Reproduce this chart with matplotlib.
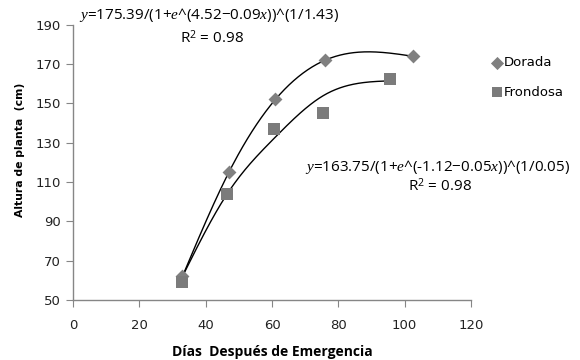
import numpy as np
import matplotlib.pyplot as plt

# observed points
dorada_x = [33, 47, 61, 76, 102.5]
dorada_y = [62, 115, 152, 172, 174]
frondosa_x = [33, 46.5, 60.5, 75.5, 95.5]
frondosa_y = [59, 104, 137, 145, 162.5]

# values of the fitted curves at the same days
dorada_fit = [62, 115, 152, 172, 174]
frondosa_fit = [62, 104, 132, 154, 161.5]

eq_dorada = r"$y$=175.39/(1+$e$^(4.52$-$0.09$x$))^(1/1.43)"
eq_frondosa = r"$y$=163.75/(1+$e$^(-1.12$-$0.05$x$))^(1/0.05)"
r2_text = "R$^2$ = 0.98"

xticks = [0, 20, 40, 60, 80, 100, 120]
yticks = [50, 70, 90, 110, 130, 150, 170, 190]

plt.rcParams['mathtext.fontset'] = 'custom'
plt.rcParams['mathtext.it'] = 'Liberation Serif:italic'
plt.rcParams['mathtext.rm'] = 'Open Sans'


def natural_spline(xs, ys, num=200):
    # natural cubic spline through the points (smoothed line)
    x = np.asarray(xs, float)
    y = np.asarray(ys, float)
    n = len(x)
    h = np.diff(x)
    A = np.zeros((n, n))
    b = np.zeros(n)
    A[0, 0] = A[-1, -1] = 1
    for i in range(1, n - 1):
        A[i, i - 1] = h[i - 1]
        A[i, i] = 2 * (h[i - 1] + h[i])
        A[i, i + 1] = h[i]
        b[i] = 6 * ((y[i + 1] - y[i]) / h[i] - (y[i] - y[i - 1]) / h[i - 1])
    M = np.linalg.solve(A, b)
    xx = np.linspace(x[0], x[-1], num)
    k = np.clip(np.searchsorted(x, xx) - 1, 0, n - 2)
    t0 = x[k + 1] - xx
    t1 = xx - x[k]
    hk = h[k]
    yy = (M[k] * t0**3 + M[k + 1] * t1**3) / (6 * hk) \
        + (y[k] / hk - M[k] * hk / 6) * t0 \
        + (y[k + 1] / hk - M[k + 1] * hk / 6) * t1
    return xx, yy


fig = plt.figure(figsize=(5.8, 3.6), dpi=100)
ax = fig.add_axes([0.126, 0.167, 0.686, 0.764])

ax.plot(*natural_spline(dorada_x, dorada_fit), color='black', lw=1.0, zorder=2)
ax.plot(*natural_spline(frondosa_x, frondosa_fit), color='black', lw=1.0, zorder=2)

ax.scatter(dorada_x, dorada_y, marker='D', s=50, color='#808080',
           label='Dorada', zorder=3, linewidths=0)
ax.scatter(frondosa_x, frondosa_y, marker='s', s=82, color='#7b7b7b',
           label='Frondosa', zorder=3, linewidths=0)

ax.set_xlim(0, 120)
ax.set_ylim(50, 190)
ax.set_xticks(xticks)
ax.set_yticks(yticks)
for s in ['top', 'right']:
    ax.spines[s].set_visible(False)
for s in ['left', 'bottom']:
    ax.spines[s].set_color('#868686')
    ax.spines[s].set_linewidth(1.0)
ax.tick_params(direction='out', length=5, color='#868686', labelsize=9.5,
               labelcolor='#222222', pad=4)
ax.tick_params(axis='x', pad=9)

ax.set_xlabel('Días  Después de Emergencia', fontsize=10, fontweight='bold',
              family='Open Sans', labelpad=9)
ax.set_ylabel('Altura de planta  (cm)', fontsize=7.8, fontweight='bold')
ax.yaxis.set_label_coords(-0.12, 0.545)

# equation labels, placed in figure pixels
ax.text(79 / 580, 1 - 15 / 360, eq_dorada, transform=fig.transFigure,
        ha='left', va='center', fontsize=11, family='Open Sans')
ax.text(212 / 580, 1 - 38 / 360, r2_text, transform=fig.transFigure,
        ha='center', va='center', fontsize=11, family='Open Sans')
ax.text(570 / 580, 1 - 167 / 360, eq_frondosa, transform=fig.transFigure,
        ha='right', va='center', fontsize=11, family='Open Sans')
ax.text(440 / 580, 1 - 186 / 360, r2_text, transform=fig.transFigure,
        ha='center', va='center', fontsize=11, family='Open Sans')

leg = ax.legend(loc='upper left', bbox_to_anchor=(1.035, 0.905), frameon=False,
                fontsize=9.5, handletextpad=0.05, labelspacing=1.25,
                borderaxespad=0, handlelength=1.0)
leg.legend_handles[0].set_sizes([45])
leg.legend_handles[1].set_sizes([50])

fig.savefig('out.png', dpi=100)
